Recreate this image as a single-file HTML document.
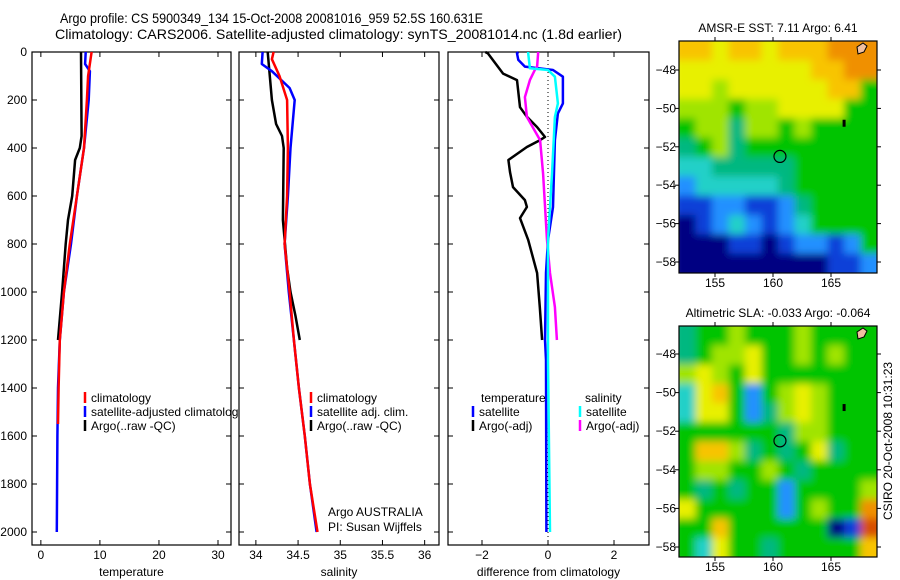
<!DOCTYPE html>
<html><head><meta charset="utf-8"><style>
html,body{margin:0;padding:0;background:#fff;}
svg{display:block;font-family:"Liberation Sans",sans-serif;}
</style></head><body>
<svg id="c" width="900" height="580">
<defs>
<filter id="blur" x="0" y="0" width="1" height="1"><feGaussianBlur stdDeviation="4"/></filter>
<clipPath id="clipTop"><rect x="679" y="41" width="198" height="232"/></clipPath>
<clipPath id="clipBot"><rect x="679" y="326" width="198" height="231"/></clipPath>
</defs>
</svg>
<script>
// ---------- data ----------
const depthTicks=[0,200,400,600,800,1000,1200,1400,1600,1800,2000];
const tempTicks=[0,10,20,30];
const salTicks=[34,34.5,35,35.5,36];
const diffTicks=[-2,0,2];
const tClimD=[0,100,200,400,600,800,1000,1200,1400,1550];
const tClimV=[8.6,8.0,7.8,7.3,6.1,4.9,3.9,3.2,3.0,2.9];
const tSatD=[0,50,80,200,400,600,800,1000,1200,1400,1600,1800,2000];
const tSatV=[7.6,7.5,8.3,8.1,7.3,6.1,5.1,3.9,3.2,2.9,2.8,2.75,2.7];
const tArgoD=[0,350,400,450,600,700,800,1000,1200];
const tArgoV=[6.8,6.9,6.6,5.8,5.3,4.6,4.2,3.6,2.9];
const sClimD=[0,30,100,200,400,600,800,1000,1200,1400,1600,1800,2000];
const sClimV=[34.21,34.19,34.28,34.37,34.38,34.37,34.34,34.4,34.45,34.51,34.58,34.64,34.73];
const sSatD=[0,50,80,150,200,400,600,800,1000,1200,1400,1600,1800,2000];
const sSatV=[34.08,34.07,34.19,34.4,34.46,34.41,34.38,34.34,34.39,34.45,34.51,34.58,34.64,34.72];
const sArgoD=[0,200,300,350,400,700,900,1000,1100,1200];
const sArgoV=[34.14,34.19,34.24,34.31,34.33,34.32,34.37,34.41,34.47,34.52];
const dTArgoD=[0,6,90,117,230,270,313,354,367,396,450,500,563,617,646,692,783,921,1063,1200];
const dTArgoV=[-1.9,-1.82,-1.36,-0.94,-0.85,-0.64,-0.33,-0.09,-0.24,-0.64,-1.2,-1.15,-1.06,-0.7,-0.64,-0.85,-0.6,-0.33,-0.25,-0.18];
const dTSatD=[0,6,33,61,75,103,214,256,367,646,783,921,1200,1283,2000];
const dTSatV=[-0.9,-0.94,-0.9,-0.7,0.15,0.45,0.45,0.3,0.21,0.15,0,-0.06,-0.09,-0.06,-0.05];
const dSSatD=[0,6,68,75,103,214,271,508,783,1283,2000];
const dSSatV=[-0.6,-0.6,-0.55,0,0.21,0.3,0.21,0.12,0,0,0.06];
const dSArgoD=[0,6,61,75,117,188,271,367,508,783,921,1063,1200];
const dSArgoV=[-0.3,-0.3,-0.33,-0.4,-0.55,-0.7,-0.64,-0.24,-0.15,-0.03,0.06,0.21,0.27];
const lonTicks=[155,160,165];
const latTicks=[-48,-50,-52,-54,-56,-58];
const sstGrid=[
[8,8,7,8,8,7,8,8,8,9,9,9],
[7,7,7,7,7,7,7,7,8,8,9,9],
[7,7,6,7,7,7,7,7,7,8,8,5],
[6,6,6,5,6,6,7,7,7,7,5,5],
[5,6,6,4,6,6,5,6,5,5,5,5],
[4,5,6,4,5,5,5,5,5,5,5,5],
[3,3,4,4,4,4,4,5,5,5,5,5],
[2,3,3,3,3,3,4,5,5,5,5,5],
[1,1,2,2,1,1,2,4,5,5,5,5],
[0,1,2,3,2,1,2,3,5,5,5,5],
[0,0,0,1,1,0,1,2,2,1,2,5],
[0,0,0,0,0,0,0,0,0,1,1,2]];
const slaGrid=[
[4,5,5,6,5,5,5,6,5,5,5,5],
[4,5,6,6,7,5,5,6,5,6,5,5],
[6,7,6,5,7,5,5,5,5,5,5,5],
[3,7,8,5,2,5,6,7,6,5,5,5],
[3,7,7,5,2,4,6,7,6,5,5,5],
[5,5,5,5,5,5,4,6,6,5,5,5],
[5,8,8,6,4,5,4,5,7,4,5,5],
[5,6,6,5,5,6,5,4,5,5,5,5],
[5,4,5,4,5,5,2,5,5,5,5,6],
[7,5,5,5,5,5,2,5,6,5,5,9],
[5,5,8,5,5,5,5,5,5,0,1,10],
[5,3,7,5,5,4,5,5,5,5,5,8]];
const palette=["#000082","#1040d8","#2090ff","#20d0c8","#00b880","#00c400","#a0e400","#e8f000","#f8c400","#f09000","#d85000"];

// ---------- helpers ----------
const svg=document.getElementById('c');
const NS='http://www.w3.org/2000/svg';
function mk(tag,attrs,parent){const e=document.createElementNS(NS,tag);for(const k in attrs)e.setAttribute(k,attrs[k]);(parent||svg).appendChild(e);return e;}
function txt(x,y,s,opts,parent){const e=mk('text',Object.assign({x:x,y:y,'font-size':12,fill:'#000'},opts||{}),parent);e.textContent=s;return e;}

const Y0=52,Y1=545;
function yD(d){return 52+d*0.24;}

function panel(name,x0,x1,vmin,vmax,ticks,title,fmt){
  const g=mk('g',{});
  
  
  const r=mk('rect',{x:x0,y:Y0,width:x1-x0,height:Y1-Y0,fill:'#fff',stroke:'#000','stroke-width':1.2},g);
  
  
  const sx=v=>x0+(v-vmin)/(vmax-vmin)*(x1-x0);
  ticks.forEach(t=>{const x=sx(t);
    mk('line',{x1:x,y1:Y1,x2:x,y2:Y1-5,stroke:'#000'},g);
    mk('line',{x1:x,y1:Y0,x2:x,y2:Y0+5,stroke:'#000'},g);
    const l=txt(x,559,fmt?fmt(t):String(t),{'text-anchor':'middle'},g);
    
    
  });
  depthTicks.forEach(d=>{const y=yD(d);
    mk('line',{x1:x0,y1:y,x2:x0+5,y2:y,stroke:'#000'},g);
    mk('line',{x1:x1,y1:y,x2:x1-5,y2:y,stroke:'#000'},g);
  });
  const t=txt((x0+x1)/2,576,title,{'text-anchor':'middle'},g);
  
  
  return {g:g,sx:sx};
}
function series(p,name,D,V,color){
  const pts=D.map((d,i)=>p.sx(V[i]).toFixed(1)+','+yD(d).toFixed(1)).join(' ');
  const l=mk('polyline',{points:pts,fill:'none',stroke:color,'stroke-width':2.5,'stroke-linejoin':'round'},p.g);
  
  
}
function legItem(g,x,y,color,label){
  mk('line',{x1:x,y1:y-10,x2:x,y2:y+1,stroke:color,'stroke-width':2.5},g);
  const t=txt(x+6,y,label,{},g);
  
  
}

// ---------- titles ----------
const t1=txt(60,23,'Argo profile: CS 5900349_134 15-Oct-2008 20081016_959 52.5S 160.631E',{'font-size':14,textLength:423,lengthAdjust:'spacingAndGlyphs'});


const t2=txt(55,39,'Climatology: CARS2006. Satellite-adjusted climatology: synTS_20081014.nc (1.8d earlier)',{'font-size':14,textLength:567,lengthAdjust:'spacingAndGlyphs'});



// depth labels
depthTicks.forEach(d=>{const l=txt(27,yD(d)+4,String(d),{'text-anchor':'end'});
  
  });

// ---------- panel 1 ----------
const p1=panel('temperature-panel',32,231,-1.5,32.2,tempTicks,'temperature');
series(p1,'temp-argo-line',tArgoD,tArgoV,'#000');
series(p1,'temp-satellite-line',tSatD,tSatV,'#0000ff');
series(p1,'temp-climatology-line',tClimD,tClimV,'#ff0000');
legItem(p1.g,85,402,'#ff0000','climatology');
legItem(p1.g,85,416,'#0000ff','satellite-adjusted climatology');
legItem(p1.g,85,430,'#000','Argo(..raw -QC)');

// ---------- panel 2 ----------
const p2=panel('salinity-panel',239,439,33.8,36.17,salTicks,'salinity');
series(p2,'sal-argo-line',sArgoD,sArgoV,'#000');
series(p2,'sal-satellite-line',sSatD,sSatV,'#0000ff');
series(p2,'sal-climatology-line',sClimD,sClimV,'#ff0000');
legItem(p2.g,311,402,'#ff0000','climatology');
legItem(p2.g,311,416,'#0000ff','satellite adj. clim.');
legItem(p2.g,311,430,'#000','Argo(..raw -QC)');
const a1=txt(328,516,'Argo AUSTRALIA',{},p2.g);


const a2=txt(328,531,'PI: Susan Wijffels',{},p2.g);



// ---------- panel 3 ----------
const p3=panel('difference-panel',448,649,-3.03,3.06,diffTicks,'difference from climatology',v=>v<0?'\u2212'+(-v):String(v));
mk('line',{x1:p3.sx(0),y1:Y0,x2:p3.sx(0),y2:Y1,stroke:'#000','stroke-dasharray':'1,3'},p3.g);
series(p3,'temp-diff-argo-line',dTArgoD,dTArgoV,'#000');
series(p3,'temp-diff-satellite-line',dTSatD,dTSatV,'#0000ff');
series(p3,'sal-diff-argo-line',dSArgoD,dSArgoV,'#ff00ff');
series(p3,'sal-diff-satellite-line',dSSatD,dSSatV,'#00ffff');
const lt=txt(481,402,'temperature',{},p3.g);


const ls=txt(585,402,'salinity',{},p3.g);


legItem(p3.g,473,416,'#0000ff','satellite');
legItem(p3.g,473,430,'#000','Argo(-adj)');
legItem(p3.g,580,416,'#00ffff','satellite');
legItem(p3.g,580,430,'#ff00ff','Argo(-adj)');

// ---------- maps ----------
function map(name,title,grid,mx0,my0,mx1,my1,lat48y,lat58y,clip){
  const g=mk('g',{});
  
  
  const rows=grid.length,cols=grid[0].length;
  const cw=(mx1-mx0)/cols,ch=(my1-my0)/rows;
  const cg=mk('g',{'clip-path':'url(#'+clip+')'},g);
  const bg=mk('g',{filter:'url(#blur)'},cg);
  grid.forEach((row,i)=>row.forEach((v,j)=>{
    const c=mk('rect',{x:mx0+j*cw-(j==0?6:0),y:my0+i*ch-(i==0?6:0),width:cw+0.6+(j==0||j==cols-1?6:0),height:ch+0.6+(i==0||i==rows-1?6:0),fill:palette[v]},bg);
    
    
  }));
  const fr=mk('rect',{x:mx0,y:my0,width:mx1-mx0,height:my1-my0,fill:'none',stroke:'#000','stroke-width':1.2},g);
  
  
  const lonX=lo=>715+(lo-155)*11.6;
  const latY=la=>lat48y+(-48-la)*(lat58y-lat48y)/10;
  lonTicks.forEach(lo=>{const x=lonX(lo);
    mk('line',{x1:x,y1:my1,x2:x,y2:my1+4,stroke:'#000'},g);
    mk('line',{x1:x,y1:my0,x2:x,y2:my0-4,stroke:'#000'},g);
    const l=txt(x,my1+14,String(lo),{'text-anchor':'middle'},g);
    
    });
  latTicks.forEach(la=>{const y=latY(la);
    mk('line',{x1:mx0,y1:y,x2:mx0-4,y2:y,stroke:'#000'},g);
    mk('line',{x1:mx1,y1:y,x2:mx1+4,y2:y,stroke:'#000'},g);
    const l=txt(mx0-3,y+4,'\u2212'+(-la),{'text-anchor':'end'},g);
    
    });
  const c=mk('circle',{cx:lonX(160.6),cy:latY(-52.5),r:6,fill:'none',stroke:'#000','stroke-width':1.2},g);
  
  
  const t=txt((mx0+mx1)/2,my0-9,title,{'text-anchor':'middle'},g);
  
  
  mk('path',{d:`M${mx1-20} ${my0+6} l6 -4 l4 3 l-3 6 l-6 2z`,fill:'#f0c0a0',stroke:'#000'},g);
  mk('rect',{x:lonX(166),y:latY(-50.8)-4,width:3,height:7,fill:'#000'},g);
}
map('sst-map','AMSR-E SST: 7.11  Argo: 6.41',sstGrid,679,41,877,273,70,262,'clipTop');
map('sla-map','Altimetric SLA: -0.033  Argo: -0.064',slaGrid,679,326,877,557,354,547,'clipBot');
const cs=txt(0,0,'CSIRO 20-Oct-2008 10:31:23',{'text-anchor':'middle',transform:'translate(892,441) rotate(-90)'});


</script>
</body></html>
